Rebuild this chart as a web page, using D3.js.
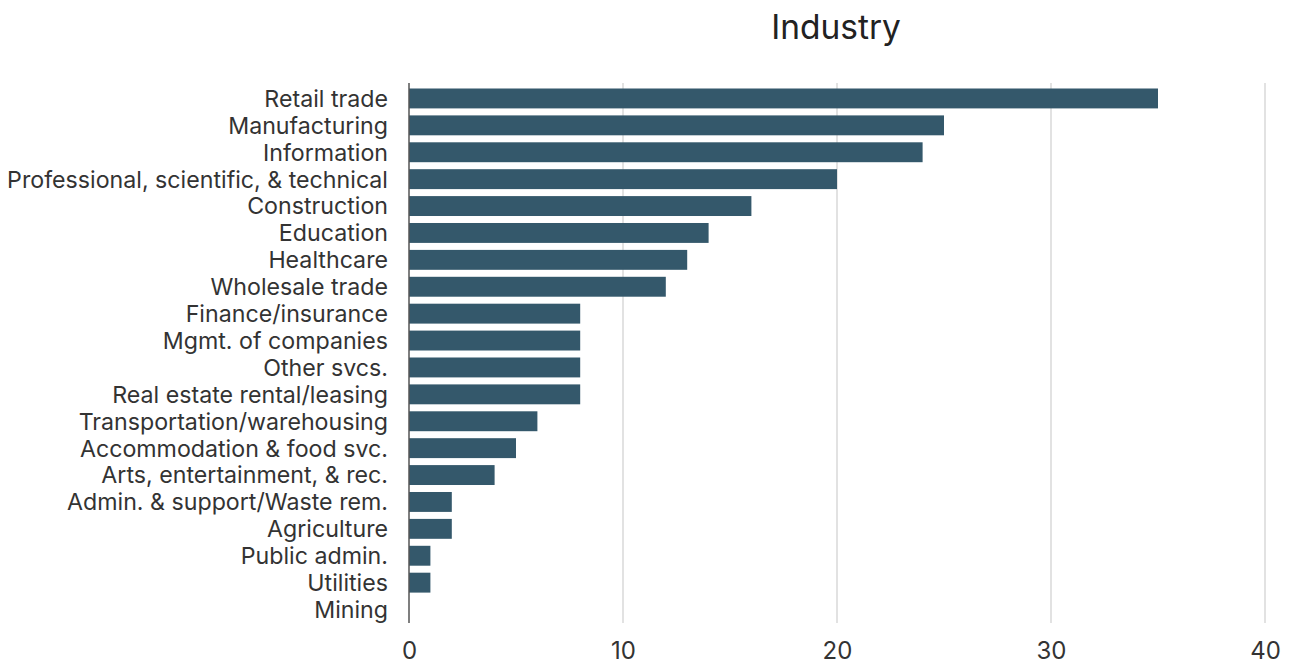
<!DOCTYPE html>
<html>
<head>
<meta charset="utf-8">
<script src="https://cdn.jsdelivr.net/npm/d3@7"></script>
<style>
  html, body { margin: 0; padding: 0; background: #fff; }
  svg { display: block; }
  text { font-family: Inter, "Open Sans", sans-serif; }
</style>
</head>
<body>
<svg id="chart" width="1289" height="667"></svg>
<script>
// Number of firms by industry
const industries = [
  "Retail trade", "Manufacturing", "Information",
  "Professional, scientific, & technical", "Construction", "Education",
  "Healthcare", "Wholesale trade", "Finance/insurance", "Mgmt. of companies",
  "Other svcs.", "Real estate rental/leasing", "Transportation/warehousing",
  "Accommodation & food svc.", "Arts, entertainment, & rec.",
  "Admin. & support/Waste rem.", "Agriculture", "Public admin.", "Utilities", "Mining"
];
const counts = [35, 25, 24, 20, 16, 14, 13, 12, 8, 8, 8, 8, 6, 5, 4, 2, 2, 1, 1, 0];
const xTicks = [0, 10, 20, 30, 40];
const title = "Industry";

const data = industries.map((name, i) => ({ name, value: counts[i] }));

const svg = d3.select("#chart");
const margin = { left: 409, right: 24, top: 85, bottom: 44 };
const W = 1289, H = 667;

const x = d3.scaleLinear().domain([0, 40]).range([margin.left, W - margin.right]);
const y = d3.scaleBand().domain(industries).range([margin.top, H - margin.bottom]).paddingInner(0.26).paddingOuter(0.13);

// vertical gridlines
svg.append("g").selectAll("line")
  .data(xTicks.filter(d => d > 0))
  .join("line")
  .attr("x1", d => x(d)).attr("x2", d => x(d))
  .attr("y1", margin.top - 2).attr("y2", H - margin.bottom)
  .attr("stroke", "#cfcfcf").attr("stroke-width", 1.2);

// bars
svg.append("g").selectAll("rect")
  .data(data)
  .join("rect")
  .attr("x", x(0))
  .attr("y", d => y(d.name))
  .attr("width", d => x(d.value) - x(0))
  .attr("height", y.bandwidth())
  .attr("fill", "#34586b");

// baseline
svg.append("line")
  .attr("x1", x(0)).attr("x2", x(0))
  .attr("y1", margin.top - 2).attr("y2", H - margin.bottom)
  .attr("stroke", "#555").attr("stroke-width", 1.5);

// category labels
const yAxis = d3.axisLeft(y).tickSize(0).tickPadding(21);
const gy = svg.append("g").attr("transform", `translate(${x(0)},0)`).call(yAxis);
gy.select(".domain").remove();
gy.selectAll("text").attr("font-size", 23.2).attr("fill", "#333").attr("dy", "0.36em")
  .style("font-family", "Inter, 'Open Sans', sans-serif");

// value axis labels
const xAxis = d3.axisBottom(x).tickValues(xTicks).tickSize(0).tickPadding(19);
const gx = svg.append("g").attr("transform", `translate(0,${H - margin.bottom})`).call(xAxis);
gx.select(".domain").remove();
gx.selectAll("text").attr("font-size", 24).attr("fill", "#333")
  .style("font-family", "Inter, 'Open Sans', sans-serif");

// title
svg.append("text")
  .attr("x", (x(0) + x(40)) / 2 - 1)
  .attr("y", 39)
  .attr("text-anchor", "middle")
  .attr("font-size", 33.5)
  .attr("fill", "#222")
  .text(title);
</script>
</body>
</html>
